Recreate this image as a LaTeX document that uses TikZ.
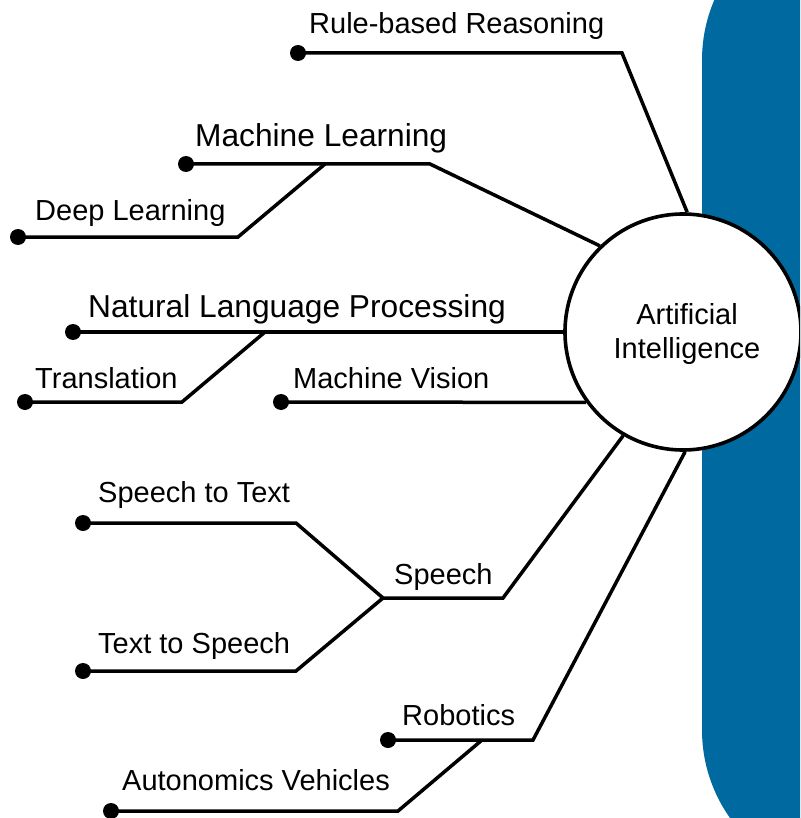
\documentclass[tikz,border=0pt]{standalone}
\usepackage{fontspec}
\setmainfont{Liberation Sans}
\definecolor{aiblue}{RGB}{0,106,160}
\tikzset{
  conn/.style={line width=3.5pt, line join=miter},
  dotnode/.style={circle, fill=black, minimum size=16pt, inner sep=0pt},
  smalltxt/.style={anchor=base west, inner sep=0pt, font=\fontsize{29}{34}\selectfont},
  bigtxt/.style={anchor=base west, inner sep=0pt, font=\fontsize{31.7}{36}\selectfont},
  hub/.style={circle, draw=black, line width=3.6pt, fill=white, minimum size=236pt, inner sep=0pt,
              align=center, font=\fontsize{29}{34}\selectfont}
}
\begin{document}
\begin{tikzpicture}[x=1pt, y=-1pt]
\clip (0,0) rectangle (800,818);
\fill[aiblue, rounded corners=152pt] (702,-92) rectangle (920,882);

\node[hub] (ai) at (683,332) {};
\node[anchor=base, inner sep=0pt, font=\fontsize{29}{34}\selectfont] (ai1) at (687,324) {Artificial};
\node[anchor=base, inner sep=0pt, font=\fontsize{29}{34}\selectfont] (ai2) at (687,358) {Intelligence};

% Rule-based Reasoning
\node[dotnode] (rr) at (298,53) {};
\coordinate (rrc) at (622,53);
\node[smalltxt] (rrt) at (309,34) {Rule-based Reasoning};
\draw[conn] (rr.center) -- (rrc) -- (ai.88);

% Machine Learning + Deep Learning
\node[dotnode] (ml) at (186,164) {};
\coordinate (mlc) at (430,164);
\coordinate (mlb) at (325,164);
\node[bigtxt] (mlt) at (195,147) {Machine Learning};
\draw[conn] (ml.center) -- (mlc) -- (ai.134);
\node[dotnode] (dl) at (18,237) {};
\coordinate (dlc) at (238,237);
\node[smalltxt] (dlt) at (35,221) {Deep Learning};
\draw[conn] (dl.center) -- (dlc) -- (mlb);

% Natural Language Processing + Translation
\node[dotnode] (nlp) at (73,332) {};
\coordinate (nlpb) at (265,332);
\node[bigtxt] (nlpt) at (88,317) {Natural Language Processing};
\draw[conn] (nlp.center) -- (ai.180);
\node[dotnode] (tr) at (25,402) {};
\coordinate (trc) at (182,402);
\node[smalltxt] (trt) at (35,388) {Translation};
\draw[conn] (tr.center) -- (trc) -- (nlpb);

% Machine Vision
\node[dotnode] (mv) at (281,402) {};
\node[smalltxt] (mvt) at (293,388) {Machine Vision};
\draw[conn] (mv.center) -- (ai.216.4);

% Speech
\node[dotnode] (stt) at (83,523) {};
\coordinate (sttc) at (296,523);
\node[smalltxt] (sttt) at (98,502) {Speech to Text};
\node[dotnode] (tts) at (83,671) {};
\coordinate (ttsc) at (296,671);
\node[smalltxt] (ttst) at (98,653) {Text to Speech};
\coordinate (spj) at (383,598);
\coordinate (spc) at (503,598);
\node[smalltxt] (spt) at (394,584) {Speech};
\draw[conn] (stt.center) -- (sttc) -- (spj);
\draw[conn] (tts.center) -- (ttsc) -- (spj);
\draw[conn] (spj) -- (spc) -- (ai.240);

% Robotics + Autonomics Vehicles
\node[dotnode] (rob) at (388,740) {};
\coordinate (robc) at (533,740);
\coordinate (robb) at (482,740);
\node[smalltxt] (robt) at (402,725) {Robotics};
\draw[conn] (rob.center) -- (robc) -- (ai.271);
\node[dotnode] (av) at (111,811) {};
\coordinate (avc) at (398,811);
\node[smalltxt] (avt) at (122,790) {Autonomics Vehicles};
\draw[conn] (av.center) -- (avc) -- (robb);
\end{tikzpicture}
\end{document}
